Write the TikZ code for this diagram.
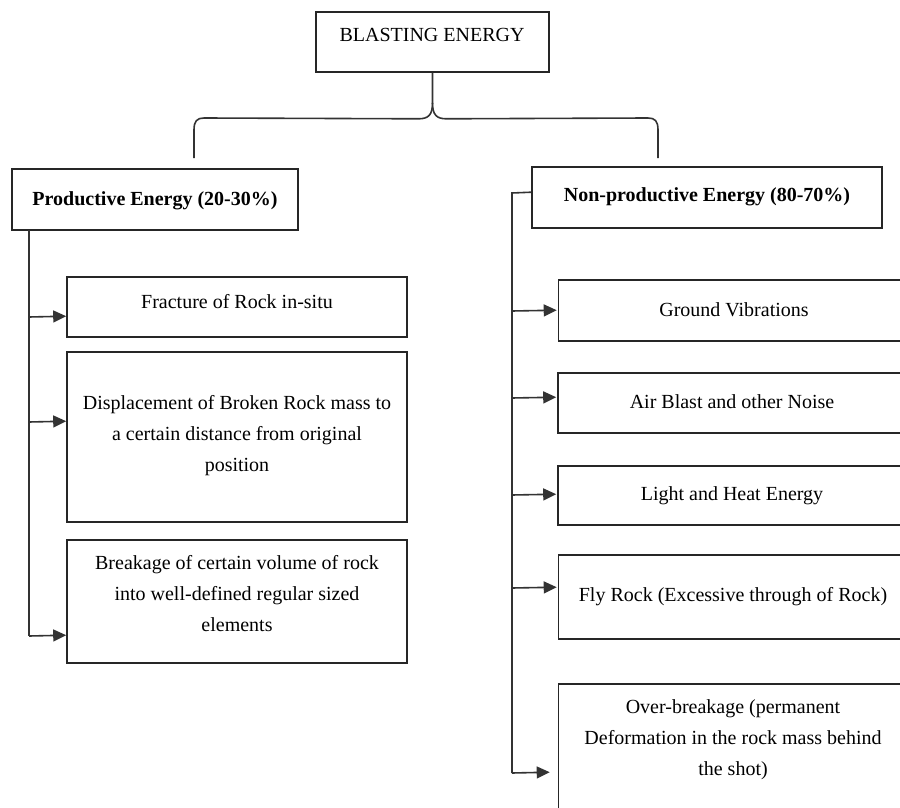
\documentclass[tikz,border=0pt]{standalone}
\usepackage{fontspec}
\setmainfont{Liberation Serif}
\usetikzlibrary{arrows.meta,calc}
\begin{document}
\begin{tikzpicture}[x=1pt,y=-1pt,
  box/.style={draw=black!85, line width=1.6pt, inner sep=0pt, rectangle},
  txt/.style={font=\fontsize{20}{31}\selectfont, align=center, inner sep=0pt, text=black},
  conn/.style={draw=black!80, line width=1.6pt},
  arr/.style={conn, -{Triangle[length=13pt,width=12pt]}}]
\useasboundingbox (0,0) rectangle (900,808);
\clip (0,0) rectangle (900,808);
% boxes
\node[box, minimum width=233pt, minimum height=60pt] (top) at (432.5,42) {};
\node[box, minimum width=286pt, minimum height=61pt] (prod) at (155,199.5) {};
\node[box, minimum width=350pt, minimum height=61pt] (nonprod) at (707,197.5) {};
\node[box, minimum width=340pt, minimum height=60pt] (L1) at (237,307) {};
\node[box, minimum width=340pt, minimum height=170pt] (L2) at (237,437) {};
\node[box, minimum width=340pt, minimum height=123pt] (L3) at (237,601.5) {};
\node[box, minimum width=350pt, minimum height=61pt] (R1) at (733.5,310.5) {};
\node[box, minimum width=350pt, minimum height=60pt] (R2) at (733,403) {};
\node[box, minimum width=350pt, minimum height=59pt] (R3) at (733,495.5) {};
\node[box, minimum width=350pt, minimum height=84pt] (R4) at (733.5,597) {};
\node[box, minimum width=350pt, minimum height=180pt] (R5) at (733.5,774) {};
% texts
\node[txt] (tTop) at (432,35) {BLASTING ENERGY};
\node[txt, font=\fontsize{20}{31}\selectfont\bfseries] (tProd) at (155,201) {Productive Energy (20-30\%)};
\node[txt, font=\fontsize{20}{31}\selectfont\bfseries] (tNon) at (707,197) {Non-productive Energy (80-70\%)};
\node[txt] (tL1) at (237,302) {Fracture of Rock in-situ};
\node[txt] (tL2) at (237,436) {Displacement of Broken Rock mass to\\a certain distance from original\\position};
\node[txt] (tL3) at (237,594) {Breakage of certain volume of rock\\into well-defined regular sized\\elements};
\node[txt] (tR1) at (734,310) {Ground Vibrations};
\node[txt] (tR2) at (732,402) {Air Blast and other Noise};
\node[txt] (tR3) at (732,496) {Light and Heat Energy};
\node[txt] (tR4) at (733,597) {Fly Rock (Excessive through of Rock)};
\node[txt] (tR5) at (733,740) {Over-breakage (permanent\\Deformation in the rock mass behind\\the shot)};
% brace
\coordinate (bl) at (194,158);
\coordinate (br) at (658,158);
\draw[conn] (top.south) -- ++(0,30) .. controls +(0,12) and +(10,0) .. ++(-14,16) -- (204,118) .. controls (197,118) and (194,121) .. (194,130) -- (bl);
\draw[conn] ($(top.south)+(0,30)$) .. controls +(0,12) and +(-10,0) .. ++(14,16) -- (648,118) .. controls (655,118) and (658,121) .. (658,130) -- (br);
% left tree
\coordinate (lt) at (29,230);
\coordinate (lb) at (29,636);
\draw[conn] (lt) -- (lb);
\draw[arr] (29,317) -- ($(L1.north west)+(0,40)$);
\draw[arr] (29,422) -- ($(L2.north west)+(0,70)$);
\draw[arr] (lb) -- ($(L3.north west)+(0,96)$);
% right tree
\coordinate (rt) at (512,193);
\coordinate (rb) at (512,773);
\draw[conn] (nonprod.north west) ++(0,26) -- (rt) -- (rb);
\draw[arr] (512,311) -- ($(R1.north west)+(-1,31)$);
\draw[arr] (512,398) -- ($(R2.north west)+(-1,25)$);
\draw[arr] (512,495) -- ($(R3.north west)+(-1,29)$);
\draw[arr] (512,588) -- ($(R4.north west)+(-1,33)$);
\draw[arr] (rb) -- ($(R5.north west)+(-8,89)$);
\end{tikzpicture}
\end{document}
